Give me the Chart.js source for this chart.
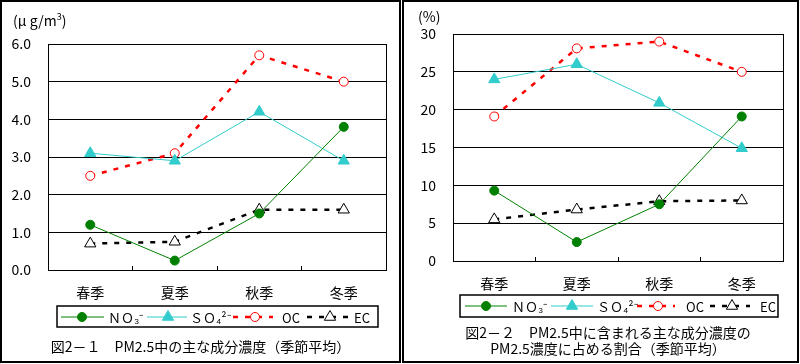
<!DOCTYPE html>
<html><head><meta charset="utf-8">
<script src="https://cdn.jsdelivr.net/npm/chart.js@4/dist/chart.umd.min.js"></script>
<style>
html,body{margin:0;padding:0;background:#fff;}
body{width:800px;height:364px;overflow:hidden;position:relative;font-family:"Noto Sans CJK JP","Noto Sans",sans-serif;color:#000;}
.box{position:absolute;top:0;height:363px;border:2px solid #000;box-sizing:border-box;}
canvas{position:absolute;top:0;}
.t{position:absolute;font-size:14px;line-height:18px;white-space:nowrap;}
sup{font-size:9px;line-height:0;vertical-align:6px;}
</style></head>
<body>
<div class="box" style="left:0;width:401px"></div>
<div class="box" style="left:402px;width:397px"></div>
<canvas id="cL" width="401" height="363" style="left:0"></canvas>
<canvas id="cR" width="397" height="363" style="left:402px"></canvas>
<div class="t" style="left:13px;top:11px;">(μ g/m<sup>3</sup>)</div>
<div class="t" style="left:418px;top:7px;">(%)</div>
<div class="t" style="left:0;width:401px;text-align:center;top:337px;">図2－１　PM2.5中の主な成分濃度（季節平均）</div>
<div class="t" style="left:458px;width:300px;text-align:center;top:323px;">図2－２　PM2.5中に含まれる主な成分濃度の</div>
<div class="t" style="left:458px;width:300px;text-align:center;top:339px;">PM2.5濃度に占める割合（季節平均）</div>
<script>
// ---- data ----
const seasons = ['春季','夏季','秋季','冬季'];
const seriesNames = ['ＮＯ₃⁻','ＳＯ₄²⁻','OC','EC'];
// concentration (μg/m3)
const concNO3 = [1.2, 0.25, 1.5, 3.8];
const concSO4 = [3.1, 2.9, 4.2, 2.9];
const concOC  = [2.5, 3.1, 5.7, 5.0];
const concEC  = [0.7, 0.75, 1.6, 1.6];
// share of PM2.5 (%)
const ratioNO3 = [9.3, 2.5, 7.5, 19.1];
const ratioSO4 = [24.0, 26.0, 20.9, 14.9];
const ratioOC  = [19.1, 28.1, 29.0, 25.0];
const ratioEC  = [5.5, 6.8, 7.9, 8.0];
// y axis ticks
const concTicks  = {min:0, max:6, step:1, decimals:1};
const ratioTicks = {min:0, max:30, step:5, decimals:0};

// ---- styles ----
const styles = [
  {color:'#008000', fill:'#008000', point:'circle',   r:4.5, width:1,   dash:[]},
  {color:'#33CCCC', fill:'#33CCCC', point:'triangle', r:6.5, width:1,   dash:[]},
  {color:'#FF0000', fill:'#FFFFFF', point:'circle',   r:4.5, width:2.5, dash:[5,7]},
  {color:'#000000', fill:'#FFFFFF', point:'triangle', r:6.5, width:2.5, dash:[5,7]}
];

function drawMarker(ctx, st, x, y){
  ctx.save();
  ctx.setLineDash([]);
  ctx.lineWidth = 1;
  ctx.strokeStyle = st.color;
  ctx.fillStyle = st.fill;
  ctx.beginPath();
  if (st.point === 'circle') {
    ctx.arc(x, y, st.r, 0, Math.PI*2);
  } else {
    let a = 0;
    for (let i=0;i<3;i++){
      const px = x + Math.sin(a)*st.r, py = y - Math.cos(a)*st.r;
      if (i===0) ctx.moveTo(px,py); else ctx.lineTo(px,py);
      a += Math.PI*2/3;
    }
    ctx.closePath();
  }
  ctx.fill(); ctx.stroke();
  ctx.restore();
}

const frameAndLegend = {
  id:'frameAndLegend',
  beforeDatasetsDraw(chart){
    const a = chart.chartArea, ctx = chart.ctx;
    ctx.save();
    ctx.strokeStyle = '#000'; ctx.lineWidth = 1;
    ctx.beginPath();
    ctx.moveTo(Math.round(a.right)+0.5, a.top);
    ctx.lineTo(Math.round(a.right)+0.5, a.bottom);
    ctx.stroke();
    ctx.restore();
  },
  afterDraw(chart, args, opts){
    const ctx = chart.ctx;
    const b = opts.box;
    ctx.save();
    ctx.strokeStyle = '#000'; ctx.lineWidth = 1.5;
    ctx.strokeRect(b[0], b[1], b[2], b[3]);
    ctx.font = '13px "Noto Sans CJK JP", sans-serif';
    ctx.textBaseline = 'middle';
    ctx.fillStyle = '#000';
    opts.items.forEach((it, i) => {
      const st = styles[i];
      ctx.save();
      ctx.strokeStyle = st.color;
      ctx.lineWidth = st.width;
      ctx.setLineDash(st.dash);
      ctx.beginPath();
      ctx.moveTo(it[0], opts.y); ctx.lineTo(it[1], opts.y);
      ctx.stroke();
      ctx.restore();
      drawMarker(ctx, st, it[2], opts.y);
      ctx.fillText(chart.data.datasets[i].label, it[3], opts.y+1);
    });
    ctx.restore();
  }
};

function makeChart(id, values, tk, lay){
  const datasets = values.map((v, i) => ({
    label: seriesNames[i],
    data: v,
    borderColor: styles[i].color,
    backgroundColor: styles[i].fill,
    borderWidth: styles[i].width,
    borderDash: styles[i].dash,
    pointStyle: styles[i].point,
    pointRadius: styles[i].r,
    pointBorderWidth: 1,
    pointBorderColor: styles[i].color,
    pointBackgroundColor: styles[i].fill,
    tension: 0,
    fill: false
  }));
  return new Chart(document.getElementById(id), {
    type:'line',
    data:{labels:seasons, datasets},
    options:{
      responsive:false, animation:false, devicePixelRatio:1,
      layout:{padding:{left:0, right:lay.padRight, top:lay.padTop, bottom:0}},
      plugins:{
        legend:{display:false}, tooltip:{enabled:false},
        frameAndLegend:{box:lay.box, items:lay.items, y:lay.legY}
      },
      scales:{
        x:{
          offset:true,
          grid:{display:true, drawOnChartArea:false, drawTicks:true, tickLength:-4, color:'#000', lineWidth:1, offset:true},
          border:{display:true, color:'#000', width:1},
          ticks:{color:'#000', font:{family:'"Noto Sans CJK JP", sans-serif', size:14}, padding:lay.xPad, maxRotation:0, autoSkip:false},
          afterFit(s){ s.height = lay.xHeight; }
        },
        y:{
          min:tk.min, max:tk.max,
          grid:{color:'#000', lineWidth:1, drawTicks:false},
          border:{display:true, color:'#000', width:1},
          ticks:{stepSize:tk.step, color:'#000', padding:17,
                 font:{family:'"Noto Sans CJK JP", sans-serif', size:14},
                 callback:v => Number(v).toFixed(tk.decimals)},
          afterFit(s){ s.width = lay.yWidth; }
        }
      }
    },
    plugins:[frameAndLegend]
  });
}

makeChart('cL', [concNO3, concSO4, concOC, concEC], concTicks, {
  padRight:15, padTop:44, xHeight:93, yWidth:48, xPad:18,
  box:[57, 306, 321, 21], legY:317,
  items:[[61,104,82,108],[147,187,168,190],[233,273,255,282],[307,348,330,354]]
});
makeChart('cR', [ratioNO3, ratioSO4, ratioOC, ratioEC], ratioTicks, {
  padRight:16, padTop:34, xHeight:102, yWidth:51, xPad:18,
  box:[58, 295, 318, 22], legY:306,
  items:[[63,105,84,110],[149,191,170,195],[235,273,256,284],[308,348,330,358]]
});
</script>
</body></html>
